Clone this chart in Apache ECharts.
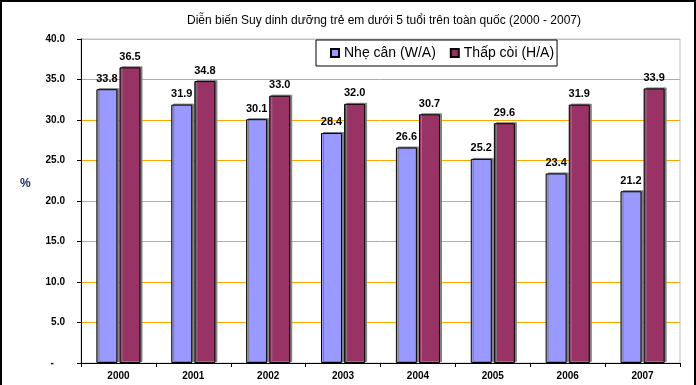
<!DOCTYPE html>
<html><head><meta charset="utf-8">
<script src="https://cdn.jsdelivr.net/npm/echarts@6/dist/echarts.min.js"></script>
<style>
html,body{margin:0;padding:0;background:#fff;}
#wrap{position:relative;width:696px;height:385px;box-sizing:border-box;border:2px solid #000;border-bottom:none;overflow:hidden;}
#c{position:absolute;left:-2px;top:-2px;width:696px;height:385px;}
</style></head>
<body><div id="wrap"><div id="c"></div></div>
<script>
const categories = ['2000','2001','2002','2003','2004','2005','2006','2007'];
const nheCan = [33.8, 31.9, 30.1, 28.4, 26.6, 25.2, 23.4, 21.2];
const thapCoi = [36.5, 34.8, 33.0, 32.0, 30.7, 29.6, 31.9, 33.9];
const seriesNames = ['Nhẹ cân (W/A)', 'Thấp còi (H/A)'];
const titleText = 'Diễn biến Suy dinh dưỡng trẻ em dưới 5 tuổi trên toàn quốc (2000 - 2007)';
const axisUnit = '%';

const chart = echarts.init(document.getElementById('c'));
const labelStyle = {show:true, position:'top', distance:5, fontFamily:'Arial, Liberation Sans', fontWeight:'bold', fontSize:11, color:'#000', formatter: p => p.value.toFixed(1)};
chart.setOption({
  animation:false,
  title:{text:titleText, left:379, textAlign:'center', top:10,
    textStyle:{fontFamily:"'Liberation Sans Narrow','Arial Narrow','Liberation Sans',sans-serif", fontSize:12, fontWeight:'normal', color:'#000'}},
  graphic:[{type:'text', left:20, top:178, style:{text:axisUnit, font:'bold 12px Arial, Liberation Sans', fill:'#1F2F6F'}}],
  legend:{data:seriesNames, left:316, top:40, padding:[6,3,6,14], itemGap:14, itemWidth:8, itemHeight:8,
    backgroundColor:'#fff', borderColor:'#000', borderWidth:1,
    textStyle:{fontFamily:'Arial, Liberation Sans', fontSize:14, color:'#000'},
    icon:'rect'},
  grid:{left:81, right:16, top:39, bottom:22, show:true, borderColor:'#BFBFBF', borderWidth:1},
  xAxis:{type:'category', data:categories,
    axisLine:{lineStyle:{color:'#000', width:1}},
    axisTick:{show:true, length:4, inside:false, lineStyle:{color:'#000'}},
    axisLabel:{fontFamily:'Arial, Liberation Sans', fontWeight:'bold', fontSize:10, color:'#000', margin:8}},
  yAxis:{type:'value', min:0, max:40, interval:5,
    axisLine:{show:true, lineStyle:{color:'#000'}},
    axisTick:{show:true, length:4, lineStyle:{color:'#000'}},
    axisLabel:{fontFamily:'Arial, Liberation Sans', fontWeight:'bold', fontSize:10, color:'#000', margin:16,
      formatter: v => v === 0 ? '-    ' : v.toFixed(1)},
    splitLine:{lineStyle:{color:['#FFA500','#FFA500','#FFA500','#FFA500','#FFA500','#FFA500','#FFA500','#FFA500','#BFBFBF'], width:1}}},
  series:[
    {name:seriesNames[0], type:'bar', data:nheCan, barWidth:21, barGap:'10%',
      itemStyle:{color:'#9999FF', borderColor:'#000', borderWidth:1, shadowColor:'#808080', shadowOffsetX:2, shadowOffsetY:-1, shadowBlur:0},
      label:labelStyle},
    {name:seriesNames[1], type:'bar', data:thapCoi, barWidth:21,
      itemStyle:{color:'#993366', borderColor:'#000', borderWidth:1, shadowColor:'#808080', shadowOffsetX:2, shadowOffsetY:-1, shadowBlur:0},
      label:labelStyle}
  ]
});
</script></body></html>
